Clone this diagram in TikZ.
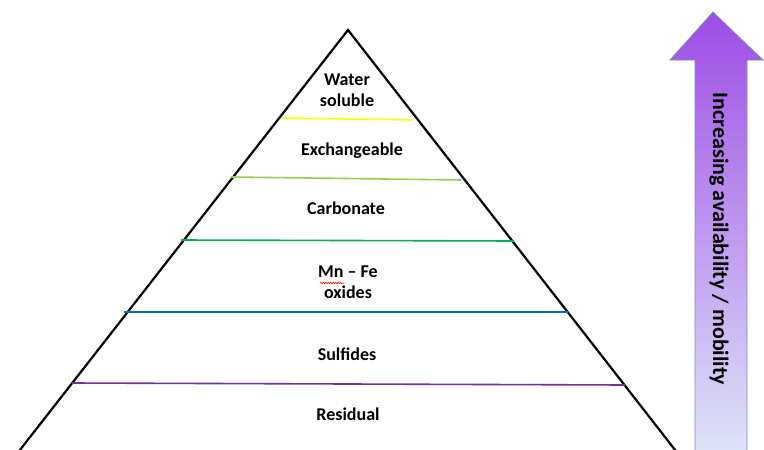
\documentclass[tikz,border=0pt]{standalone}
\usepackage{fontspec}
\setmainfont{Carlito}
\usetikzlibrary{decorations.pathmorphing}
\definecolor{lyellow}{RGB}{255,255,0}
\definecolor{lgreen}{RGB}{146,208,80}
\definecolor{dgreen}{RGB}{0,176,80}
\definecolor{lblue}{RGB}{0,112,192}
\definecolor{lpurple}{RGB}{112,48,160}
\definecolor{atop}{RGB}{158,76,230}
\definecolor{amid}{RGB}{184,192,236}
\definecolor{abot}{RGB}{222,228,248}
\definecolor{aedge}{RGB}{125,140,190}
\tikzset{
  lbl/.style={font=\fontsize{18}{21}\selectfont\bfseries, align=center, inner sep=0pt},
  layer/.style={line width=1.6pt},
}
\begin{document}
\begin{tikzpicture}[x=1pt,y=-1pt]
\useasboundingbox (0,0) rectangle (764,450);
\begin{scope}
\clip (0,0) rectangle (764,450);
% pyramid
\coordinate (apex) at (348,30);
\coordinate (bl) at (16,455);
\coordinate (br) at (679,455);
\draw[line width=2.2pt, line join=miter] (bl) -- (apex) -- (br);
% layer lines
\coordinate (y1) at (283,118); \coordinate (y2) at (412,120);
\coordinate (g1) at (231,177); \coordinate (g2) at (461,180);
\coordinate (d1) at (181,240); \coordinate (d2) at (514,241);
\coordinate (b1) at (124,312); \coordinate (b2) at (568,312);
\coordinate (p1) at (72,383); \coordinate (p2) at (625,385);
\draw[layer, lyellow] (y1) -- (y2);
\draw[layer, lgreen] (g1) -- (g2);
\draw[layer, dgreen] (d1) -- (d2);
\draw[layer, lblue] (b1) -- (b2);
\draw[layer, lpurple] (p1) -- (p2);
% labels
\node[lbl] (water) at (347,90) {Water\\soluble};
\node[lbl] (exch) at (352,151) {Exchangeable};
\node[lbl] (carb) at (346,208) {Carbonate};
\node[lbl] (mnfe) at (348,282) {Mn -- Fe\\oxides};
\node[lbl] (sulf) at (347,354) {Sulfides};
\node[lbl] (resid) at (348,414) {Residual};
\draw[red, line width=0.6pt, decorate, decoration={snake, amplitude=0.7pt, segment length=2.5pt}] (320,283) -- (344,283);
% arrow
\coordinate (tip) at (713,12);
\shade[top color=atop, middle color=amid, bottom color=abot, draw=aedge, line width=0.8pt]
  (tip) -- (763,60) -- (747,60) -- (747,452) -- (695,452) -- (695,60) -- (670,60) -- cycle;
\node[font=\fontsize{22}{26}\selectfont\bfseries, rotate=-90, inner sep=0pt] (arrowtxt) at (719,239) {Increasing availability / mobility};
\end{scope}
\end{tikzpicture}
\end{document}
